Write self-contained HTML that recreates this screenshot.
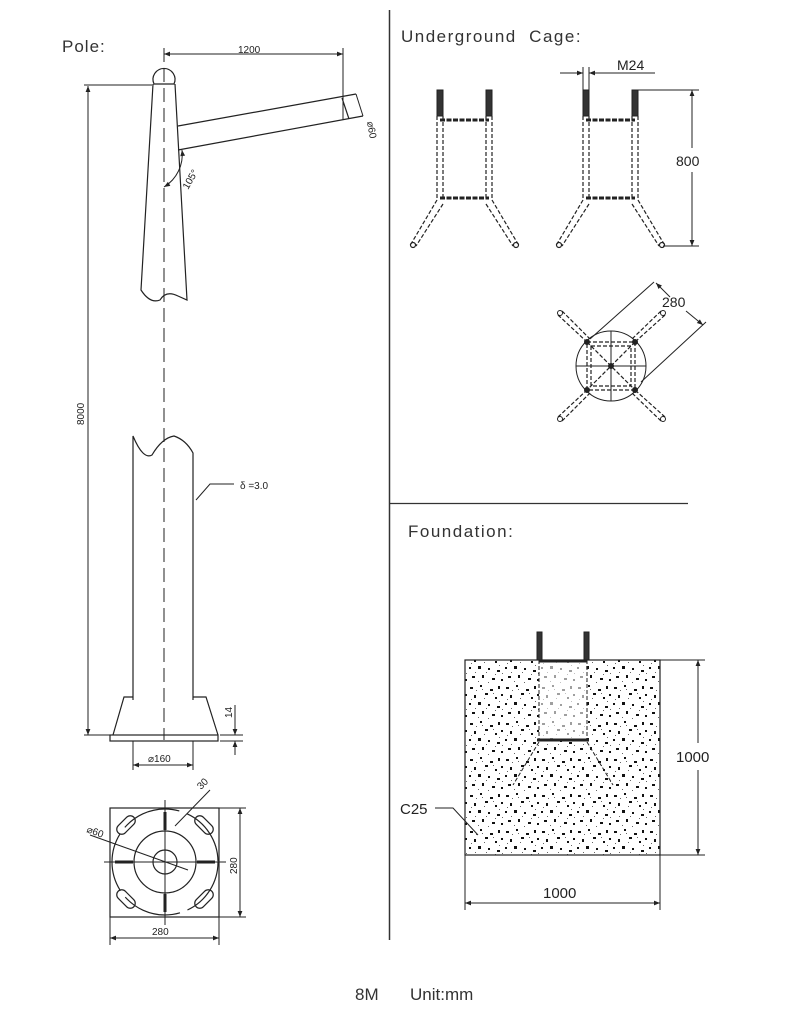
<!DOCTYPE html>
<html><head><meta charset="utf-8"><style>
html,body{margin:0;padding:0;background:#fff;}
svg{display:block;font-family:"Liberation Sans",sans-serif;}
</style></head><body>
<svg width="800" height="1009" viewBox="0 0 800 1009" xmlns="http://www.w3.org/2000/svg">
<defs>
<marker id="a" viewBox="0 0 10 10" refX="10" refY="5" markerWidth="9" markerHeight="6" orient="auto-start-reverse" markerUnits="userSpaceOnUse"><path d="M0,1 L10,5 L0,9 Z" fill="#222"/></marker>
<pattern id="conc" width="36" height="36" patternUnits="userSpaceOnUse">
<rect width="36" height="36" fill="#fff"/>
<g fill="#111">
<rect x="2" y="3" width="3" height="2"/><rect x="12" y="1" width="2" height="2"/><rect x="22" y="5" width="3" height="2"/><rect x="30" y="2" width="2" height="3"/>
<rect x="6" y="11" width="2" height="3"/><rect x="17" y="9" width="3" height="2"/><rect x="27" y="13" width="2" height="2"/><rect x="33" y="10" width="2" height="2"/>
<rect x="1" y="19" width="2" height="2"/><rect x="10" y="18" width="3" height="3"/><rect x="20" y="20" width="2" height="2"/><rect x="29" y="22" width="3" height="2"/>
<rect x="4" y="28" width="3" height="2"/><rect x="14" y="27" width="2" height="3"/><rect x="24" y="30" width="3" height="2"/><rect x="33" y="31" width="2" height="2"/>
</g>
<g fill="#666">
<rect x="8" y="6" width="1" height="1"/><rect x="16" y="14" width="1" height="1"/><rect x="25" y="9" width="1" height="1"/><rect x="3" y="15" width="1" height="1"/>
<rect x="31" y="17" width="1" height="1"/><rect x="7" y="24" width="1" height="1"/><rect x="18" y="24" width="1" height="1"/><rect x="27" y="26" width="1" height="1"/>
<rect x="10" y="33" width="1" height="1"/><rect x="20" y="34" width="1" height="1"/><rect x="14" y="5" width="1" height="1"/><rect x="34" y="25" width="1" height="1"/>
</g>
</pattern>
<g id="cage" stroke="#222" fill="none">
<rect x="437" y="90" width="6" height="26" fill="#333" stroke-width="1"/>
<rect x="486" y="90" width="6" height="26" fill="#333" stroke-width="1"/>
<g stroke-dasharray="4,2" stroke-width="1.2">
<line x1="437" y1="116" x2="437" y2="200"/><line x1="443" y1="116" x2="443" y2="200"/>
<line x1="486" y1="116" x2="486" y2="200"/><line x1="492" y1="116" x2="492" y2="200"/>
<line x1="437" y1="200" x2="411" y2="244"/><line x1="443" y1="204" x2="416" y2="246"/>
<line x1="492" y1="200" x2="518" y2="244"/><line x1="486" y1="204" x2="513" y2="246"/>
</g>
<circle cx="413" cy="245" r="2.5" stroke-width="1.2"/><circle cx="516" cy="245" r="2.5" stroke-width="1.2"/>
<line x1="440" y1="120" x2="489" y2="120" stroke-width="3" stroke-dasharray="5,1.5"/>
<line x1="440" y1="198" x2="489" y2="198" stroke-width="3" stroke-dasharray="5,1.5"/>
</g>
</defs>

<line x1="389.5" y1="10" x2="389.5" y2="940" stroke="#333" stroke-width="1.5"/>
<line x1="389" y1="503.5" x2="688" y2="503.5" stroke="#333" stroke-width="1.2"/>

<text x="62" y="52" font-size="17" fill="#333" letter-spacing="1">Pole:</text>
<text x="401" y="42" font-size="17" fill="#333" letter-spacing="1.5">Underground&#160;&#160;Cage:</text>
<text x="408" y="537" font-size="17" fill="#333" letter-spacing="1.5">Foundation:</text>
<text x="355" y="1000" font-size="17" fill="#333">8M</text>
<text x="410" y="1000" font-size="17" fill="#333">Unit:mm</text>

<g stroke="#222" fill="none" stroke-width="1.2">
<path d="M154,84 A11,11 0 1 1 174,84 Z"/>
<path d="M153,84 L141,290 Q150,304 160,300 Q166,290 178,296 L187,300 L175,84"/>
<line x1="164" y1="48" x2="164" y2="740" stroke-dasharray="14,6" stroke-width="1"/>
<path d="M178,126 L356,94 M178,150 L363,116 M342,98 L349,119"/>
<path d="M182,150 A38,38 0 0 1 164,187" stroke-width="1" marker-start="url(#a)" marker-end="url(#a)"/>
<line x1="164" y1="54" x2="343" y2="54" stroke-width="1" marker-start="url(#a)" marker-end="url(#a)"/>
<line x1="343" y1="48" x2="343" y2="120" stroke-width="1"/>
<line x1="356" y1="94" x2="363" y2="116" stroke-width="1"/>
<line x1="84" y1="85" x2="152" y2="85" stroke-width="1"/>
<line x1="88" y1="86" x2="88" y2="735" stroke-width="1" marker-start="url(#a)" marker-end="url(#a)"/>
<line x1="84" y1="735" x2="112" y2="735" stroke-width="1"/>
<path d="M133,700 L133,436 Q143,460 152,455 Q162,438 174,436 Q186,440 193,453 L193,700"/>
<path d="M196,500 L210,484 L234,484" stroke-width="1"/>
<path d="M133,697 L124,697 L113,735 M193,697 L206,697 L218,735"/>
<rect x="110" y="735" width="108" height="6"/>
<line x1="133" y1="741" x2="133" y2="770" stroke-width="1"/>
<line x1="193" y1="741" x2="193" y2="770" stroke-width="1"/>
<line x1="133" y1="765" x2="193" y2="765" stroke-width="1" marker-start="url(#a)" marker-end="url(#a)"/>
<line x1="220" y1="735" x2="243" y2="735" stroke-width="1"/>
<line x1="220" y1="741" x2="243" y2="741" stroke-width="1"/>
<line x1="235" y1="705" x2="235" y2="735" stroke-width="1" marker-end="url(#a)"/>
<line x1="235" y1="755" x2="235" y2="741" stroke-width="1" marker-end="url(#a)"/>
<rect x="110" y="808" width="109" height="109"/>
<circle cx="165" cy="862" r="53" stroke-dasharray="60,8"/>
<circle cx="165" cy="862" r="31"/>
<circle cx="165" cy="862" r="12"/>
<line x1="165" y1="800" x2="165" y2="925" stroke-width="1"/>
<line x1="104" y1="862" x2="226" y2="862" stroke-width="1"/>
<line x1="90" y1="835" x2="188" y2="870" stroke-width="1"/>
<line x1="175" y1="826" x2="210" y2="790" stroke-width="1"/>
<line x1="110" y1="917" x2="110" y2="945" stroke-width="1"/>
<line x1="219" y1="917" x2="219" y2="945" stroke-width="1"/>
<line x1="110" y1="938" x2="219" y2="938" stroke-width="1" marker-start="url(#a)" marker-end="url(#a)"/>
<line x1="219" y1="808" x2="246" y2="808" stroke-width="1"/>
<line x1="219" y1="917" x2="246" y2="917" stroke-width="1"/>
<line x1="240" y1="808" x2="240" y2="917" stroke-width="1" marker-start="url(#a)" marker-end="url(#a)"/>
<g transform="rotate(-45 126 825)"><rect x="115" y="820" width="22" height="10" rx="5"/></g>
<g transform="rotate(45 204 825)"><rect x="193" y="820" width="22" height="10" rx="5"/></g>
<g transform="rotate(45 126 899)"><rect x="115" y="894" width="22" height="10" rx="5"/></g>
<g transform="rotate(-45 204 899)"><rect x="193" y="894" width="22" height="10" rx="5"/></g>
</g>
<g stroke="#222" stroke-width="3">
<line x1="165" y1="812" x2="165" y2="830"/><line x1="165" y1="894" x2="165" y2="912"/>
<line x1="115" y1="862" x2="133" y2="862"/><line x1="197" y1="862" x2="215" y2="862"/>
</g>
<g font-size="10" fill="#222">
<text x="238" y="53">1200</text>
<text transform="translate(367,122) rotate(80)">⌀60</text>
<text transform="translate(188,190) rotate(-60)">105°</text>
<text transform="translate(84,425) rotate(-90)">8000</text>
<text x="240" y="489">δ =3.0</text>
<text transform="translate(232,718) rotate(-90)">14</text>
<text x="148" y="762">⌀160</text>
<text transform="translate(86,832) rotate(20)">⌀60</text>
<text transform="translate(201,790) rotate(-45)">30</text>
<text x="152" y="935">280</text>
<text transform="translate(237,874) rotate(-90)">280</text>
</g>

<use href="#cage"/>
<use href="#cage" transform="translate(146,0)"/>
<g stroke="#222" stroke-width="1" fill="none">
<line x1="583" y1="67" x2="583" y2="90"/><line x1="589" y1="67" x2="589" y2="90"/>
<line x1="560" y1="73" x2="583" y2="73" marker-end="url(#a)"/><line x1="655" y1="73" x2="589" y2="73" marker-end="url(#a)"/>
<line x1="638" y1="90" x2="699" y2="90"/><line x1="663" y1="246" x2="699" y2="246"/>
<line x1="692" y1="148" x2="692" y2="90" marker-end="url(#a)"/><line x1="692" y1="172" x2="692" y2="246" marker-end="url(#a)"/>
<circle cx="611" cy="366" r="35"/>
<line x1="611" y1="331" x2="611" y2="401"/><line x1="576" y1="366" x2="646" y2="366"/>
<g stroke-dasharray="4,2" stroke-width="1.2">
<rect x="587" y="342" width="48" height="48"/><rect x="591" y="346" width="40" height="40"/>
<line x1="587" y1="342" x2="635" y2="390"/><line x1="635" y1="342" x2="587" y2="390"/>
<line x1="558" y1="315" x2="587" y2="342"/><line x1="562" y1="311" x2="590" y2="339"/>
<line x1="665" y1="315" x2="635" y2="342"/><line x1="661" y1="311" x2="632" y2="339"/>
<line x1="558" y1="417" x2="587" y2="390"/><line x1="562" y1="421" x2="590" y2="393"/>
<line x1="665" y1="417" x2="635" y2="390"/><line x1="661" y1="421" x2="632" y2="393"/>
</g>
<circle cx="560" cy="313" r="2.5"/><circle cx="663" cy="313" r="2.5"/><circle cx="560" cy="419" r="2.5"/><circle cx="663" cy="419" r="2.5"/>
<line x1="590" y1="339" x2="654" y2="282"/><line x1="641" y1="382" x2="706" y2="322"/>
<line x1="670" y1="297" x2="656" y2="283" marker-end="url(#a)"/><line x1="686" y1="311" x2="703" y2="325" marker-end="url(#a)"/>
</g>
<g stroke="#222" stroke-width="3"><circle cx="587" cy="342" r="1.5"/><circle cx="635" cy="342" r="1.5"/><circle cx="587" cy="390" r="1.5"/><circle cx="635" cy="390" r="1.5"/><circle cx="611" cy="366" r="1.5"/></g>
<g font-size="14" fill="#222">
<text x="617" y="70">M24</text>
<text x="676" y="166">800</text>
<text x="662" y="307">280</text>
</g>

<rect x="465" y="660" width="195" height="195" fill="url(#conc)" stroke="#222" stroke-width="1.2"/>
<g stroke="#222" fill="none" stroke-width="1">
<rect x="537" y="632" width="5" height="28" fill="#333"/>
<rect x="584" y="632" width="5" height="28" fill="#333"/>
<rect x="539" y="660" width="48" height="80" fill="#fff" fill-opacity="0.6" stroke-dasharray="4,2"/>
<line x1="539" y1="661" x2="587" y2="661" stroke-width="3"/>
<line x1="537" y1="740" x2="589" y2="740" stroke-width="3"/>
<line x1="539" y1="742" x2="513" y2="785" stroke-dasharray="4,2"/>
<line x1="587" y1="742" x2="613" y2="785" stroke-dasharray="4,2"/>
<line x1="660" y1="660" x2="705" y2="660"/><line x1="660" y1="855" x2="705" y2="855"/>
<line x1="698" y1="743" x2="698" y2="660" marker-end="url(#a)"/><line x1="698" y1="770" x2="698" y2="855" marker-end="url(#a)"/>
<line x1="465" y1="855" x2="465" y2="910"/><line x1="660" y1="855" x2="660" y2="910"/>
<line x1="465" y1="903" x2="660" y2="903" marker-start="url(#a)" marker-end="url(#a)"/>
<path d="M435,808 L453,808 L478,835"/>
</g>
<g font-size="15" fill="#222">
<text x="676" y="762">1000</text>
<text x="543" y="898">1000</text>
<text x="400" y="814">C25</text>
</g>
</svg>
</body></html>
